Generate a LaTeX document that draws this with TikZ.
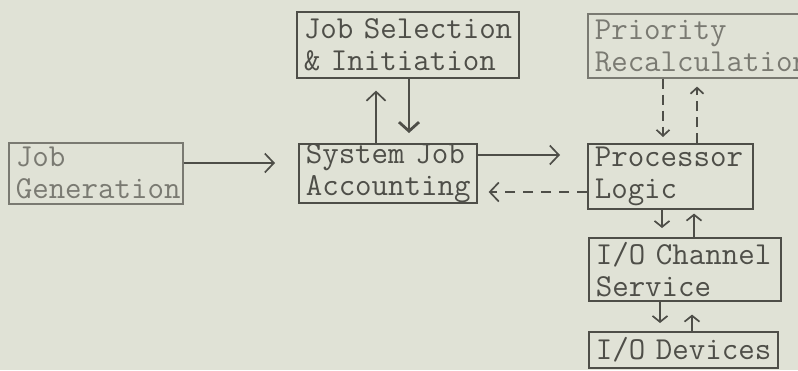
\documentclass[tikz,border=0pt]{standalone}
\usepackage{fontspec}
\usetikzlibrary{arrows.meta}
\definecolor{paper}{HTML}{E0E2D6}
\definecolor{ink}{HTML}{4E4E48}
\definecolor{faint}{HTML}{7A7A72}
\newcommand\typefont{\fontsize{32}{32}\selectfont\ttfamily\hyphenpenalty=10000 \hbadness=10000 \hfuzz=50pt }
\newcommand\boxline[1]{\mbox{#1}}
\begin{document}
\begin{tikzpicture}[x=1pt,y=-1pt,
  box/.style={draw=ink, line width=1.6pt, rectangle, anchor=north west,
    align=left, inner xsep=7pt, inner ysep=0pt, text=ink, font=\typefont},
  dim/.style={draw=faint, text=faint},
  flow/.style={draw=ink, line width=1.7pt,
    -{Straight Barb[length=9pt,width=19pt,line width=1.7pt]}},
  back/.style={flow, dash pattern=on 10pt off 8pt}]
  \fill[paper] (0,0) rectangle (798,370);
  \useasboundingbox (0,0) rectangle (798,370);

  % boxes
  \node[box,dim, text width=160pt, minimum height=61pt] (gen) at (8,142) {\boxline{Job}\\\boxline{Generation}};
  \node[box, text width=208pt, minimum height=66pt] (jsi) at (296,11) {\boxline{Job Selection}\\\boxline{\& Initiation}};
  \node[box, text width=164pt, minimum height=59pt] (sja) at (298,143) {\boxline{System Job}\\\boxline{Accounting}};
  \node[box,dim, text width=210pt, minimum height=64pt] (pri) at (587,13) {\boxline{Priority}\\\boxline{Recalculation}};
  \node[box, text width=151pt, minimum height=65pt] (proc) at (587,143) {\boxline{Processor}\\\boxline{Logic}};
  \node[box, text width=178pt, minimum height=63pt] (ioc) at (588,237) {\boxline{I/O Channel}\\\boxline{Service}};
  \node[box, text width=175pt, minimum height=36pt] (iod) at (588,331) {\boxline{I/O Devices}};

  % guide lines for the connectors
  \coordinate (ya) at (0,163);
  \coordinate (yb) at (0,155);
  \coordinate (yc) at (0,192);
  \coordinate (xa) at (376,0);
  \coordinate (xb) at (409,0);
  \coordinate (xc) at (663,0);
  \coordinate (xd) at (697,0);
  \coordinate (xe) at (662,0);
  \coordinate (xf) at (694,0);
  \coordinate (xg) at (660,0);
  \coordinate (xh) at (692,0);

  % connectors
  \draw[flow, shorten >=23pt] (gen.east |- ya) -- (sja.west |- ya);
  \draw[flow, shorten >=12pt] (sja.north -| xa) -- (jsi.south -| xa);
  \draw[flow, line width=2pt, shorten >=10pt,
    -{Straight Barb[length=9pt,width=20pt,line width=2.8pt]}] (jsi.south -| xb) -- (sja.north -| xb);
  \draw[flow, shorten >=27pt] (sja.east |- yb) -- (proc.west |- yb);
  \draw[back, shorten >=11pt] (proc.west |- yc) -- (sja.east |- yc);
  \draw[back, dash pattern=on 10pt off 6pt, shorten >=6pt,
    -{Straight Barb[length=6pt,width=13pt,line width=1.7pt]}] (pri.south -| xc) -- (proc.north -| xc);
  \draw[back, dash pattern=on 10pt off 6pt, shorten >=8pt,
    -{Straight Barb[length=6pt,width=13pt,line width=1.7pt]}] (proc.north -| xd) -- (pri.south -| xd);
  \draw[flow, shorten >=9pt,
    -{Straight Barb[length=6pt,width=15pt,line width=1.7pt]}] (proc.south -| xe) -- (ioc.north -| xe);
  \draw[flow, shorten >=4pt,
    -{Straight Barb[length=6pt,width=15pt,line width=1.7pt]}] (ioc.north -| xf) -- (proc.south -| xf);
  \draw[flow, shorten >=8pt,
    -{Straight Barb[length=6pt,width=15pt,line width=1.7pt]}] (ioc.south -| xg) -- (iod.north -| xg);
  \draw[flow, shorten >=13pt,
    -{Straight Barb[length=6pt,width=15pt,line width=1.7pt]}] (iod.north -| xh) -- (ioc.south -| xh);
\end{tikzpicture}
\end{document}
